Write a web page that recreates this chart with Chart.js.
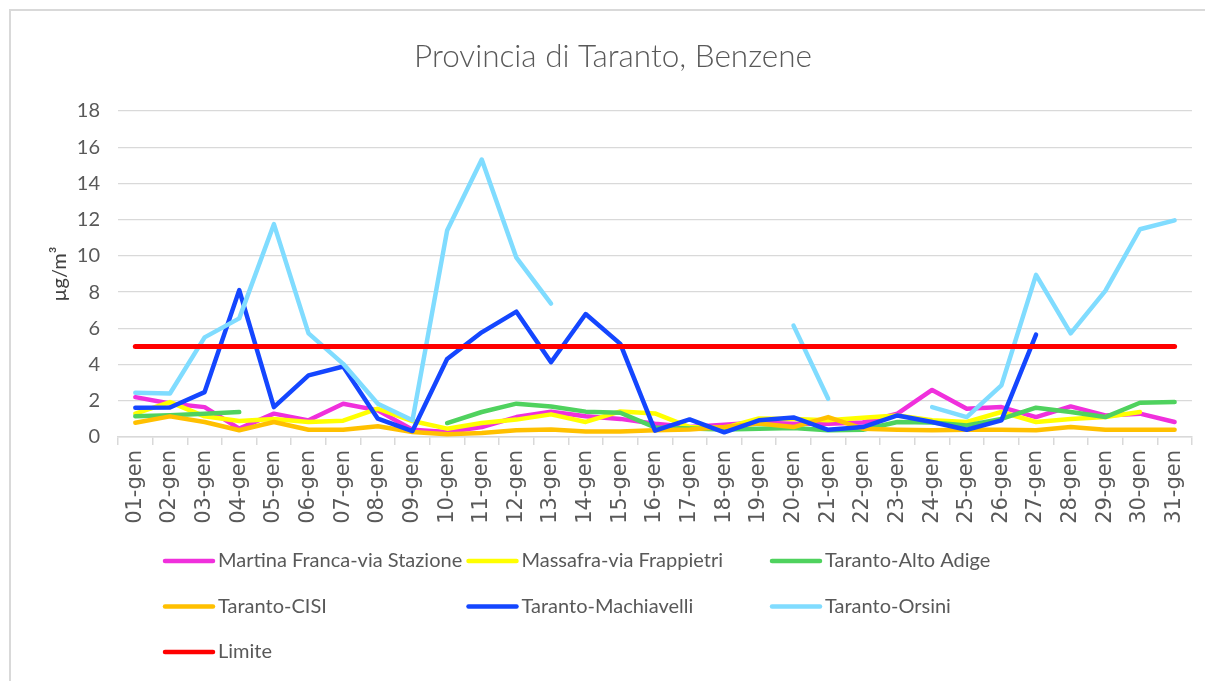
<!DOCTYPE html>
<html>
<head>
<meta charset="utf-8">
<script src="https://cdn.jsdelivr.net/npm/chart.js@4.4.1/dist/chart.umd.min.js"></script>
<style>
  html, body { margin: 0; padding: 0; background: #fff; overflow: hidden; }
  #frame { position: absolute; left: 9px; top: 9px; width: 1300px; height: 800px; border: 2px solid #d9d9d9; pointer-events: none; }
</style>
</head>
<body>
<canvas id="chart" width="1205" height="681"></canvas>
<div id="frame"></div>
<script>
const days = ["01-gen","02-gen","03-gen","04-gen","05-gen","06-gen","07-gen","08-gen","09-gen","10-gen",
  "11-gen","12-gen","13-gen","14-gen","15-gen","16-gen","17-gen","18-gen","19-gen","20-gen",
  "21-gen","22-gen","23-gen","24-gen","25-gen","26-gen","27-gen","28-gen","29-gen","30-gen","31-gen"];

const martinaFranca = [2.2, 1.85, 1.65, 0.46, 1.29, 0.92, 1.84, 1.47, 0.4, 0.28, 0.55, 1.1, 1.4, 1.15, 1.0, 0.73,
  0.55, 0.68, 0.8, 0.73, 0.73, 0.8, 1.29, 2.6, 1.56, 1.65, 1.1, 1.69, 1.19, 1.29, 0.83];
const massafra = [1.29, 1.93, 1.14, 0.88, 1.0, 0.83, 0.9, 1.56, 0.88, 0.46, 0.77, 0.96, 1.25, 0.83, 1.41, 1.3,
  0.55, 0.5, 1.02, 1.0, 0.92, 1.06, 1.19, 0.92, 0.83, 1.38, 0.83, 1.0, 1.1, 1.38, null];
const altoAdige = [1.15, 1.2, 1.28, 1.38, null, null, null, null, null, 0.77, 1.38, 1.84, 1.68, 1.4, 1.34, 0.53,
  0.47, 0.42, 0.45, 0.5, 0.37, 0.4, 0.83, 0.8, 0.64, 1.0, 1.62, 1.38, 1.1, 1.89, 1.93];
const cisi = [0.79, 1.14, 0.83, 0.37, 0.83, 0.4, 0.4, 0.59, 0.28, 0.15, 0.22, 0.37, 0.42, 0.31, 0.31, 0.37,
  0.42, 0.55, 0.75, 0.55, 1.1, 0.46, 0.4, 0.37, 0.4, 0.4, 0.37, 0.55, 0.4, 0.4, 0.4];
const machiavelli = [1.62, 1.63, 2.48, 8.11, 1.65, 3.4, 3.89, 1.01, 0.33, 4.31, 5.78, 6.92, 4.13, 6.79, 5.14, 0.35,
  0.97, 0.26, 0.92, 1.08, 0.4, 0.55, 1.19, 0.83, 0.4, 0.92, 5.65, null, null, null, null];
const orsini = [2.44, 2.4, 5.5, 6.55, 11.75, 5.72, 4.04, 1.84, 0.92, 11.4, 15.32, 9.9, 7.37, null, null, null,
  null, null, null, 6.15, 2.11, null, null, 1.65, 1.1, 2.85, 8.95, 5.72, 8.07, 11.47, 11.96];
const limite = [5, 5, 5, 5, 5, 5, 5, 5, 5, 5, 5, 5, 5, 5, 5, 5, 5, 5, 5, 5, 5, 5, 5, 5, 5, 5, 5, 5, 5, 5, 5];

const yTicks = [0, 2, 4, 6, 8, 10, 12, 14, 16, 18];

const textGrey = "#595959";
const gridGrey = "#d9d9d9";

function line(label, data, color, order, width) {
  return {
    label, data, order,
    borderColor: color,
    backgroundColor: color,
    borderWidth: width || 4.5,
    borderCapStyle: "round",
    borderJoinStyle: "round",
    pointRadius: 0,
    tension: 0,
    spanGaps: false,
  };
}

// legenda su 3 colonne, come nel grafico originale
const gridLegend = {
  id: "gridLegend",
  afterDraw(chart) {
    const { ctx } = chart;
    ctx.save();
    ctx.font = "20px Lato";
    ctx.textBaseline = "middle";
    ctx.textAlign = "left";
    chart.data.datasets.forEach((ds, i) => {
      const col = i % 3;
      const row = Math.floor(i / 3);
      const x = 165 + col * 303.5;
      const y = 561 + row * 45.5;
      ctx.strokeStyle = ds.borderColor;
      ctx.lineWidth = 4.5;
      ctx.lineCap = "round";
      ctx.beginPath();
      ctx.moveTo(x, y);
      ctx.lineTo(x + 48, y);
      ctx.stroke();
      ctx.fillStyle = textGrey;
      ctx.fillText(ds.label, x + 53, y);
    });
    ctx.restore();
  },
};

new Chart(document.getElementById("chart"), {
  type: "line",
  data: {
    labels: days,
    datasets: [
      line("Martina Franca-via Stazione", martinaFranca, "#F030DC", 7),
      line("Massafra-via Frappietri", massafra, "#FFFF00", 6),
      line("Taranto-Alto Adige", altoAdige, "#4FD25E", 5),
      line("Taranto-CISI", cisi, "#FFC000", 4),
      line("Taranto-Machiavelli", machiavelli, "#1446FF", 3),
      line("Taranto-Orsini", orsini, "#80DCFF", 2),
      line("Limite", limite, "#FF0000", 1, 5),
    ],
  },
  options: {
    responsive: false,
    animation: false,
    layout: { padding: { left: 33, right: 12, top: 0, bottom: 154 } },
    plugins: {
      legend: { display: false },
      tooltip: { enabled: false },
      title: {
        display: true,
        text: "Provincia di Taranto, Benzene",
        color: textGrey,
        font: { family: "Lato", size: 31.5, weight: "300" },
        padding: { top: 38, bottom: 35.2 },
      },
    },
    scales: {
      x: {
        offset: true,
        afterFit(scale) { scale.height = 90; },
        grid: { offset: true, drawOnChartArea: false, drawTicks: true, tickLength: 8, color: gridGrey, lineWidth: 1.5 },
        border: { display: true, color: gridGrey, width: 1.5 },
        ticks: {
          autoSkip: false,
          minRotation: 90,
          maxRotation: 90,
          padding: 5,
          color: textGrey,
          font: { family: "DejaVu Sans", size: 21 },
        },
      },
      y: {
        min: 0,
        max: 18,
        afterFit(scale) { scale.width = 85; },
        afterBuildTicks(scale) { scale.ticks = yTicks.map((v) => ({ value: v })); },
        grid: { color: gridGrey, lineWidth: 1.3, drawTicks: false },
        border: { display: false },
        ticks: { padding: 18, color: textGrey, font: { family: "Lato", size: 20 } },
        title: {
          display: true,
          text: "µg/m³",
          color: "#404040",
          font: { family: "Lato", size: 20 },
          padding: { top: 15, bottom: 0 },
        },
      },
    },
  },
  plugins: [gridLegend],
});
</script>
</body>
</html>
